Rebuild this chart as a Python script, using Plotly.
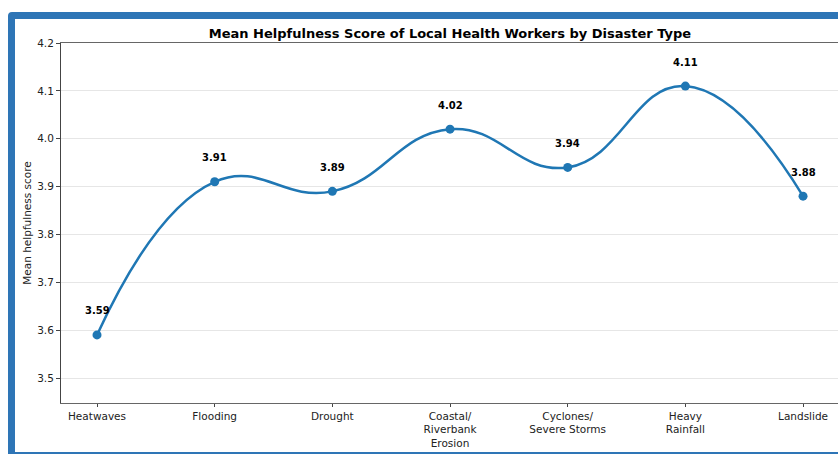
import plotly.graph_objects as go

# Survey results: mean helpfulness score per disaster type
categories = ["Heatwaves", "Flooding", "Drought", "Coastal/<br>Riverbank<br>Erosion",
              "Cyclones/<br>Severe Storms", "Heavy<br>Rainfall", "Landslide"]
scores = [3.59, 3.91, 3.89, 4.02, 3.94, 4.11, 3.88]
y_ticks = [3.5, 3.6, 3.7, 3.8, 3.9, 4.0, 4.1, 4.2]

W, H = 838, 454
L, R, T, B = 61, 0, 43, 51
pw, ph = W - L - R, H - T - B

def px_x(x):
    return (x - L) / pw

def px_y(y):
    return (H - B - y) / ph

blue = "#2e75b6"
line_blue = "#1f77b4"
xs = list(range(len(categories)))

fig = go.Figure()
fig.add_trace(go.Scatter(
    x=xs, y=scores, mode="lines+markers",
    line=dict(color=line_blue, width=2.5, shape="spline", smoothing=1.3),
    marker=dict(color=line_blue, size=9),
    hoverinfo="skip", showlegend=False,
))

for x, v in zip(xs, scores):
    fig.add_annotation(x=x, y=v, text=f"<b>{v:.2f}</b>", showarrow=False,
                       yshift=24, font=dict(family="DejaVu Sans", size=10, color="#000"))

# outer frame: thick left/top border with a rounded corner, thin bottom edge
shapes = [
    dict(type="path", xref="paper", yref="paper",
         path=(f"M {px_x(8)} {px_y(454)} L {px_x(8)} {px_y(16)} "
               f"Q {px_x(8)} {px_y(12)} {px_x(12)} {px_y(12)} "
               f"L {px_x(838)} {px_y(12)} L {px_x(838)} {px_y(19)} "
               f"L {px_x(15)} {px_y(19)} L {px_x(15)} {px_y(454)} Z"),
         fillcolor=blue, line=dict(width=0), layer="above"),
    dict(type="rect", xref="paper", yref="paper",
         x0=px_x(8), x1=px_x(838), y0=px_y(454), y1=px_y(452),
         fillcolor=blue, line=dict(width=0), layer="above"),
]

fig.update_layout(
    width=W, height=H,
    margin=dict(l=L, r=R, t=T, b=B, pad=0),
    paper_bgcolor="white", plot_bgcolor="white",
    font=dict(family="DejaVu Sans", color="#222"),
    title=dict(text="<b>Mean Helpfulness Score of Local Health Workers by Disaster Type</b>",
               x=450 / W, xanchor="center",
               y=1 - 33 / H, yanchor="middle",
               font=dict(family="DejaVu Sans", size=13, color="#000")),
    shapes=shapes,
    xaxis=dict(
        tickmode="array", tickvals=xs, ticktext=categories,
        range=[-0.306, 6.297], showgrid=False, zeroline=False,
        showline=True, linecolor="#666", linewidth=1, mirror=True,
        ticks="outside", ticklen=3, tickcolor="#444",
        tickfont=dict(family="DejaVu Sans", size=10.5, color="#222"),
    ),
    yaxis=dict(
        tickmode="array", tickvals=y_ticks, ticktext=[f"{t:.1f}" for t in y_ticks],
        range=[3.4478, 4.2], showgrid=True, gridcolor="#e6e6e6", gridwidth=1,
        zeroline=False, showline=True, linecolor="#444", linewidth=1, mirror=True,
        ticks="outside", ticklen=4, tickcolor="#444",
        tickfont=dict(family="DejaVu Sans", size=10.5, color="#222"),
        title=dict(text="Mean helpfulness score", standoff=3,
                   font=dict(family="DejaVu Sans", size=10.5, color="#222")),
    ),
)

fig.write_html("out.html")
